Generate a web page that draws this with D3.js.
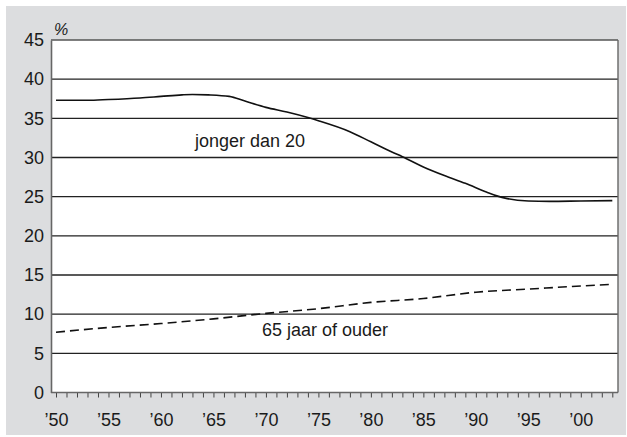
<!DOCTYPE html>
<html><head><meta charset="utf-8">
<script src="https://cdn.jsdelivr.net/npm/d3@7"></script>
<style>body{margin:0;background:#fff}svg{display:block}text{font-family:"Liberation Sans",Arial,Helvetica,sans-serif;fill:#1a1a1a}</style>
</head><body><svg id="c" width="627" height="437"></svg>
<script>
const yearsYoung = [1950,1953,1955,1958,1960,1962,1963,1964.5,1966.5,1968,1970,1972,1974,1975,1978,1980,1982,1983,1985,1987,1989,1991,1992,1993,1995,1997,2000,2003];
const valuesYoung = [37.3,37.3,37.4,37.6,37.8,38.0,38.05,38.0,37.8,37.2,36.4,35.8,35.1,34.7,33.3,32.0,30.7,30.1,28.8,27.7,26.7,25.6,25.1,24.75,24.45,24.4,24.45,24.5];
const yearsOld = [1950,1955,1960,1965,1970,1975,1980,1985,1990,1995,2000,2003];
const valuesOld = [7.7,8.3,8.8,9.4,10.1,10.7,11.5,12.0,12.8,13.2,13.6,13.8];
const yTicks = [0,5,10,15,20,25,30,35,40,45];
const xLabelYears = [1950,1955,1960,1965,1970,1975,1980,1985,1990,1995,2000];
const seriesLabels = ["jonger dan 20","65 jaar of ouder"];
const unitLabel = "%";

const FS = 18;
const svg = d3.select("#c");
svg.append("rect").attr("x",6).attr("y",6).attr("width",620).attr("height",429).attr("fill","#dcdddf");
const L=51, R=618, T=40, B=392.5;
svg.append("rect").attr("x",L).attr("y",T).attr("width",R-L).attr("height",B-T).attr("fill","#fff");

const x = d3.scaleLinear().domain([1950,2003]).range([56,612.3]);
const y = d3.scaleLinear().domain([0,45]).range([B,T]);

// gridlines
svg.append("g").selectAll("line").data(yTicks.filter(d=>d>0)).join("line")
  .attr("x1",L).attr("x2",R).attr("y1",d=>y(d)).attr("y2",d=>y(d))
  .attr("stroke",d=>d===45?"#555":"#222").attr("stroke-width",1.3);
// right border
svg.append("line").attr("x1",R).attr("x2",R).attr("y1",T).attr("y2",B).attr("stroke","#666").attr("stroke-width",1.4);

// y axis
const yAxis = d3.axisLeft(y).tickValues(yTicks).tickSize(0).tickPadding(7);
const gy = svg.append("g").attr("transform",`translate(${L},0)`).call(yAxis);
gy.select(".domain").attr("stroke","#666").attr("stroke-width",1.6);
gy.selectAll("text").attr("font-size",FS).attr("fill","#1a1a1a").style("font-family","Liberation Sans, Arial, sans-serif");

// x axis
const allYears = d3.range(1950,2004);
const xAxis = d3.axisBottom(x).tickValues(allYears).tickSize(5).tickFormat(d=>xLabelYears.includes(d)?"\u2019"+String(d%100).padStart(2,"0"):"").tickPadding(16);
const gx = svg.append("g").attr("transform",`translate(0,${B})`).call(xAxis);
gx.select(".domain").remove();
gx.append("line").attr("x1",L).attr("x2",R).attr("stroke","#666").attr("stroke-width",1.6);
gx.selectAll(".tick line").attr("stroke","#444").attr("stroke-width",1);
gx.selectAll("text").attr("font-size",FS).attr("fill","#1a1a1a").style("font-family","Liberation Sans, Arial, sans-serif");

// lines
const line = d3.line().x(d=>x(d[0])).y(d=>y(d[1])).curve(d3.curveMonotoneX);
svg.append("path").datum(d3.zip(yearsYoung,valuesYoung)).attr("d",line)
  .attr("fill","none").attr("stroke","#111").attr("stroke-width",1.6);
svg.append("path").datum(d3.zip(yearsOld,valuesOld)).attr("d",line)
  .attr("fill","none").attr("stroke","#111").attr("stroke-width",1.6).attr("stroke-dasharray","9,5");

// labels
svg.append("text").attr("x",195).attr("y",147).attr("font-size",FS).text(seriesLabels[0]);
svg.append("text").attr("x",262).attr("y",336).attr("font-size",FS).text(seriesLabels[1]);
svg.append("text").attr("x",54).attr("y",35).attr("font-size",16).attr("font-style","italic").text(unitLabel);
</script></body></html>
